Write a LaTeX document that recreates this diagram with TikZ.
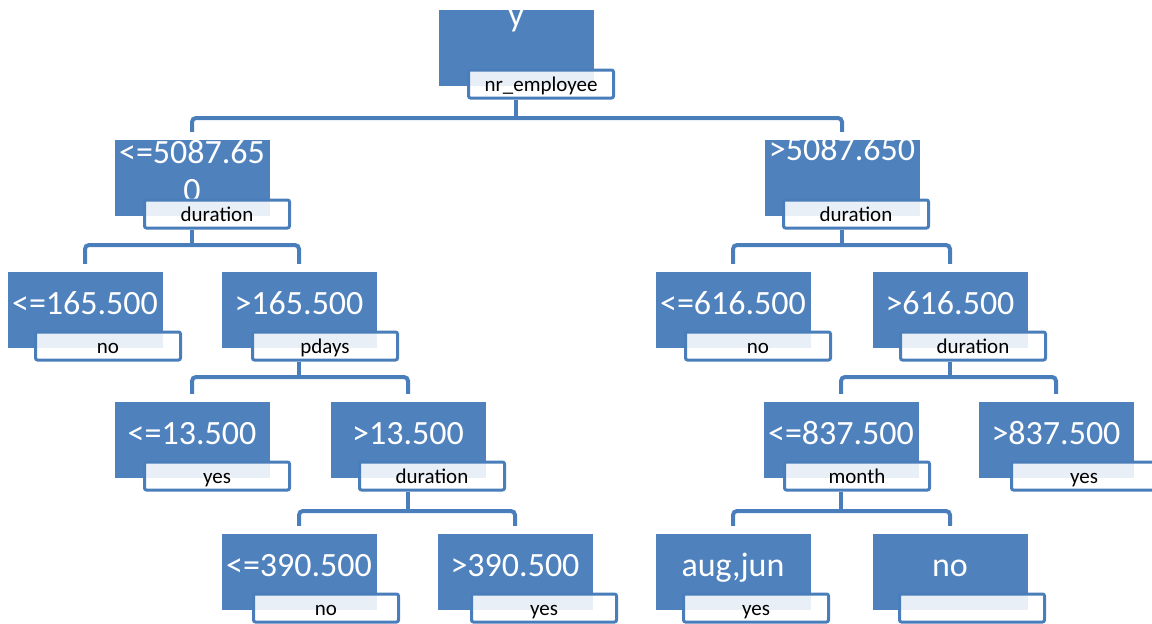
\documentclass[tikz,border=0pt]{standalone}
\usepackage{fontspec}
\setmainfont{Carlito}
\usetikzlibrary{calc}
\definecolor{nodeblue}{RGB}{79,129,189}
\definecolor{lineblue}{RGB}{74,126,187}

\begin{document}
\begin{tikzpicture}[x=1pt, y=-1pt,
        split/.style={rectangle, draw=none, fill=nodeblue, minimum width=155pt, minimum height=76pt, inner sep=0pt,
                      text=white, font=\fontsize{34}{41}\selectfont, text height=25pt, text depth=16pt},
        attr/.style={rectangle, rounded corners=2pt, draw=lineblue, line width=3pt, fill=white, fill opacity=0.88,
                     text opacity=1, minimum width=145pt, minimum height=28pt, inner sep=0pt,
                     font=\fontsize{21}{24}\selectfont, text height=17pt, text depth=2pt},
        edge/.style={draw=lineblue, line width=4pt, rounded corners=4pt}]
    \useasboundingbox (0,0) rectangle (1152,624);

    % root
    \node[split, text height=5pt, text depth=48pt] (n0) at (516,47.5) {y};
    \node[attr] (l0) at (541,84) {nr\_employee};

    % level 1
    \node[split, text height=10pt, text depth=39pt] (n1) at (192,178)
        {\fontsize{34}{38}\selectfont\begin{tabular}[t]{@{}c@{}}<=5087.65\\0\end{tabular}};
    \node[attr] (l1) at (217,214) {duration};
    \node[split, text height=5pt, text depth=40pt] (n2) at (842,178) {>5087.650};
    \node[attr] (l2) at (856,214) {duration};

    % level 2
    \node[split] (n3) at (85,310) {<=165.500};
    \node[attr] (l3) at (108,346) {no};
    \node[split] (n4) at (299,310) {>165.500};
    \node[attr] (l4) at (325,346) {pdays};
    \node[split] (n5) at (733,310) {<=616.500};
    \node[attr] (l5) at (758,346) {no};
    \node[split] (n6) at (950,310) {>616.500};
    \node[attr] (l6) at (973,346) {duration};

    % level 3
    \node[split] (n7) at (192,440) {<=13.500};
    \node[attr] (l7) at (217,476) {yes};
    \node[split] (n8) at (408,440) {>13.500};
    \node[attr] (l8) at (432,476) {duration};
    \node[split] (n9) at (841,440) {<=837.500};
    \node[attr] (l9) at (857,476) {month};
    \node[split] (n10) at (1056,440) {>837.500};
    \node[attr] (l10) at (1084,476) {yes};

    % level 4
    \node[split] (n11) at (299,572) {<=390.500};
    \node[attr] (l11) at (326,608) {no};
    \node[split] (n12) at (515,572) {>390.500};
    \node[attr] (l12) at (544,608) {yes};
    \node[split] (n13) at (733,572) {aug,jun};
    \node[attr] (l13) at (756,608) {yes};
    \node[split] (n14) at (950,572) {no};
    \node[attr] (l14) at (972,608) {};

    % branches
    \coordinate (b0) at (n0 |- 0,118);
    \coordinate (b1) at (n1 |- 0,245);
    \coordinate (b2) at (n2 |- 0,245);
    \coordinate (b4) at (n4 |- 0,377);
    \coordinate (b6) at (n6 |- 0,377);
    \coordinate (b8) at (n8 |- 0,511);
    \coordinate (b9) at (n9 |- 0,511);

    \draw[edge] (n0 |- l0.south) -- (b0);
    \draw[edge] ([yshift=8pt]n1.north) |- (b0) -| ([yshift=8pt]n2.north);
    \draw[edge] (n1 |- l1.south) -- (b1);
    \draw[edge] ([yshift=8pt]n3.north) |- (b1) -| ([yshift=8pt]n4.north);
    \draw[edge] (n2 |- l2.south) -- (b2);
    \draw[edge] ([yshift=8pt]n5.north) |- (b2) -| ([yshift=8pt]n6.north);
    \draw[edge] (n4 |- l4.south) -- (b4);
    \draw[edge] ([yshift=8pt]n7.north) |- (b4) -| ([yshift=8pt]n8.north);
    \draw[edge] (n6 |- l6.south) -- (b6);
    \draw[edge] ([yshift=8pt]n9.north) |- (b6) -| ([yshift=8pt]n10.north);
    \draw[edge] (n8 |- l8.south) -- (b8);
    \draw[edge] ([yshift=8pt]n11.north) |- (b8) -| ([yshift=8pt]n12.north);
    \draw[edge] (n9 |- l9.south) -- (b9);
    \draw[edge] ([yshift=8pt]n13.north) |- (b9) -| ([yshift=8pt]n14.north);
\end{tikzpicture}
\end{document}
